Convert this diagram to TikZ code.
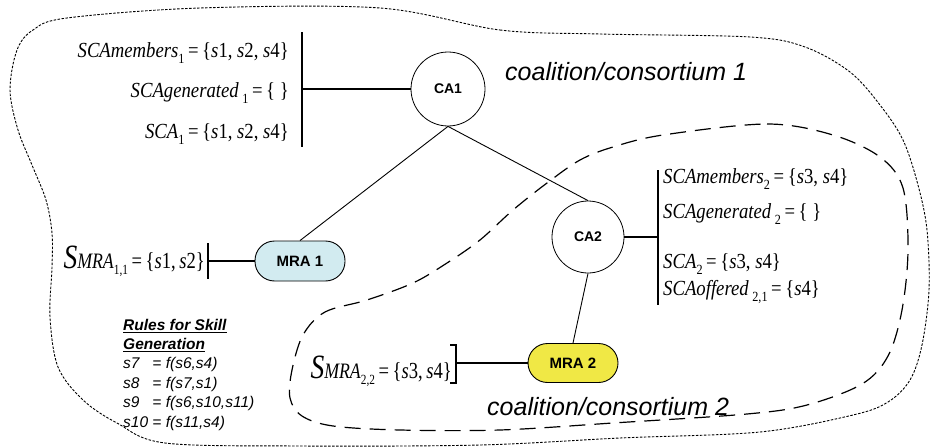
\documentclass[tikz,border=0pt]{standalone}
\usepackage{fontspec}
\setmainfont{Liberation Serif}
\newfontfamily\formfont[FakeStretch=0.87]{Liberation Serif}
\newfontfamily\arialfont{Liberation Sans}
% lowered index used in the skill-set formulas
\newcommand\lsub[1]{\raisebox{-0.3em}{\fontsize{14}{14}\selectfont #1}}
\newcommand\iv[1]{\textit{#1}}
\newcommand\bigS{{\fontsize{34}{34}\selectfont\itshape S}}
\newcommand\mra{{\fontsize{22}{22}\selectfont\itshape MRA}}
% narrow set-up for the robot skill sets
\newcommand\narrow[1]{\scalebox{0.93}[1]{#1}}

\begin{document}
\begin{tikzpicture}[x=1pt,y=-1pt,
  agentcircle/.style={circle, draw, line width=0.8pt, fill=white, minimum size=74pt,
    inner sep=0pt, font=\arialfont\bfseries\fontsize{14}{14}\selectfont},
  robot/.style={rectangle, rounded corners=19.5pt, draw, line width=0.9pt,
    minimum width=90pt, minimum height=40pt, inner sep=0pt,
    font=\arialfont\bfseries\fontsize{15}{15}\selectfont},
  link/.style={line width=0.9pt},
  bracket/.style={line width=2.2pt},
  formula/.style={inner sep=0pt, font=\formfont\fontsize{21.5}{21.5}\selectfont},
  mraformula/.style={inner sep=0pt, font=\formfont\fontsize{23}{23}\selectfont},
  coalition/.style={inner sep=0pt, font=\arialfont\itshape\fontsize{25}{25}\selectfont},
  outerzone/.style={line width=0.9pt, dash pattern=on 2.5pt off 1.5pt},
  innerzone/.style={line width=1.2pt, dash pattern=on 16pt off 9pt}]
\useasboundingbox (0,0) rectangle (930,447);

% coalition/consortium 1 boundary
\draw[outerzone] plot[smooth cycle, tension=0.55] coordinates {
  (380,8) (500,30) (600,34) (750,37) (805,47) (850,72) (880,105) (903,140)
  (918,185) (927,230) (929,290) (922,345) (910,380) (888,402) (853,415)
  (760,432) (620,438) (480,445) (300,446) (165,443) (117,423) (83,400)
  (58,367) (50,317) (52,267) (52,233) (46,200) (32,165) (18,130) (10,90)
  (17,50) (33,30) (67,18) (200,8)};

% coalition/consortium 2 boundary
\draw[innerzone] plot[smooth cycle, tension=0.55] coordinates {
  (663,135) (767,124) (833,135) (880,157) (903,188) (908,250) (902,310)
  (888,356) (862,384) (807,405) (747,414) (613,423) (500,430) (400,430)
  (333,426) (302,416) (290,398) (292,370) (303,335) (325,312) (367,300)
  (413,283) (447,263) (480,240) (513,210) (547,183) (580,160) (613,147)};

% agents
\node[agentcircle] (CA1) at (448,89) {CA1};
\node[agentcircle, minimum size=72pt] (CA2) at (588,237) {CA2};
\node[robot, fill={rgb,255:red,210;green,235;blue,240}] (MRA1) at (300,261) {MRA 1};
\node[robot, fill={rgb,255:red,240;green,232;blue,69}, minimum height=39pt] (MRA2) at (573,363) {MRA 2};

% hierarchy links
\draw[link] (CA1.south) -- (MRA1.north);
\draw[link] (CA1.south) -- (CA2.north);
\draw[link] (CA2.south) -- (MRA2.north);

% skill sets of CA1
\coordinate (b1top) at (302,32);
\coordinate (b1bot) at (302,147);
\draw[bracket] (b1top) -- (b1bot);
\draw[bracket] (CA1.west) -- (CA1.west -| b1top);
\node[formula, anchor=base east] (m1) at (289,57)
  {\iv{SCAmembers}\lsub{1}\,=\,\{\iv{s}1, \iv{s}2, \iv{s}4\}};
\node[formula, anchor=base east] (g1) at (289,97)
  {\iv{SCAgenerated}\,\lsub{1}\,=\,\{\ \}};
\node[formula, anchor=base east] (c1) at (289,138)
  {\iv{SCA}\lsub{1}\,=\,\{\iv{s}1, \iv{s}2, \iv{s}4\}};

% skill sets of CA2
\coordinate (b2top) at (658,170);
\coordinate (b2bot) at (658,305);
\draw[bracket] (b2top) -- (b2bot);
\draw[bracket] (CA2.east) -- (CA2.east -| b2top);
\node[formula, anchor=base west] (m2) at (663,183)
  {\iv{SCAmembers}\lsub{2}\,=\,\{\iv{s}3, \iv{s}4\}};
\node[formula, anchor=base west] (g2) at (663,218)
  {\iv{SCAgenerated}\,\lsub{2}\,=\,\{\ \}};
\node[formula, anchor=base west] (c2) at (663,268)
  {\iv{SCA}\lsub{2}\,=\,\{\iv{s}3, \iv{s}4\}};
\node[formula, anchor=base west] (o2) at (663,295)
  {\iv{SCAoffered}\,\lsub{2,1}\,=\,\{\iv{s}4\}};

% skill set of MRA 1
\coordinate (b3top) at (208,243);
\coordinate (b3bot) at (208,279);
\draw[bracket] (b3top) -- (b3bot);
\draw[bracket] (MRA1.west) -- (MRA1.west -| b3top);
\node[mraformula, anchor=base east] (s1) at (205,268)
  {\narrow{\bigS\mra\lsub{1,1}\,=\,\{\iv{s}1,\,\iv{s}2\}}};

% skill set of MRA 2
\coordinate (b4top) at (456,345);
\coordinate (b4bot) at (456,383);
\draw[bracket] ([xshift=-6pt]b4top) -- (b4top) -- (b4bot) -- ([xshift=-6pt]b4bot);
\draw[bracket] (MRA2.west) -- (MRA2.west -| b4top);
\node[mraformula, anchor=base east] (s2) at (452,378)
  {\narrow{\bigS\mra\lsub{2,2}\,=\,\{\iv{s}3,\,\iv{s}4\}}};

% coalition names
\node[coalition, anchor=base west] (k1) at (505,80) {coalition/consortium 1};
\node[coalition, anchor=base west] (k2) at (487,415) {coalition/consortium 2};

% skill generation rules
\node[inner sep=0pt, anchor=north west,
  font=\arialfont\itshape\fontsize{15.5}{19.4}\selectfont] (rules) at (123,316.4) {%
  \begin{tabular}{@{}l@{\ }l@{}}
  \multicolumn{2}{@{}l@{}}{\underline{\textbf{Rules for Skill}}}\\
  \multicolumn{2}{@{}l@{}}{\underline{\textbf{Generation}}}\\
  s7 & = f(s6,s4)\\
  s8 & = f(s7,s1)\\
  s9 & = f(s6,s10,s11)\\
  s10 & = f(s11,s4)
  \end{tabular}};
\end{tikzpicture}
\end{document}
